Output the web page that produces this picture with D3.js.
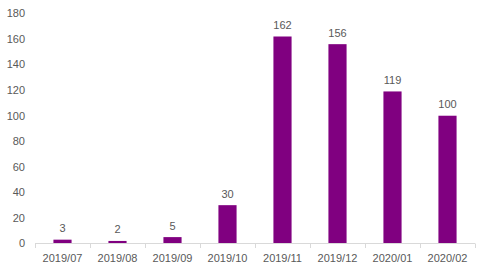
<!DOCTYPE html>
<html><head><meta charset="utf-8">
<script src="https://cdn.jsdelivr.net/npm/d3@7"></script>
<style>body{margin:0;background:#fff}svg{display:block}</style>
</head><body>
<script>
const categories = ["2019/07","2019/08","2019/09","2019/10","2019/11","2019/12","2020/01","2020/02"];
const values = [3,2,5,30,162,156,119,100];
const yTicks = [0,20,40,60,80,100,120,140,160,180];

const W = 480, H = 278;
const svg = d3.select("body").append("svg").attr("width", W).attr("height", H)
  .style("font-family", "'Liberation Sans', Arial, sans-serif");

const x = d3.scaleBand().domain(categories).range([35, 475]).paddingInner(0.67).paddingOuter(0.335);
const xb = d3.scaleBand().domain(categories).range([35, 475]);
const y = d3.scaleLinear().domain([0, 180]).range([243.5, 13.5]);

// y labels
svg.append("g").selectAll("text").data(yTicks).join("text")
  .attr("x", 25).attr("y", d => y(d)).attr("dy", "0.35em")
  .attr("text-anchor", "end").attr("font-size", 11).attr("fill", "#595959")
  .text(d => d);

// bars
svg.append("g").selectAll("rect").data(values).join("rect")
  .attr("x", (d, i) => x(categories[i])).attr("width", x.bandwidth())
  .attr("y", d => y(d)).attr("height", d => y(0) - y(d))
  .attr("fill", "#800080");

// axis line and ticks
const ax = svg.append("g");
ax.append("line").attr("x1", 35).attr("x2", 475).attr("y1", 243.5).attr("y2", 243.5)
  .attr("stroke", "#d9d9d9").attr("stroke-width", 1);
const bounds = categories.map(c => xb(c)).concat([475]);
ax.selectAll("line.t").data(bounds).join("line").attr("class", "t")
  .attr("x1", d => Math.round(d) + 0.5).attr("x2", d => Math.round(d) + 0.5)
  .attr("y1", 243.5).attr("y2", 248)
  .attr("stroke", "#d9d9d9");

// x labels
svg.append("g").selectAll("text").data(categories).join("text")
  .attr("x", d => xb(d) + xb.bandwidth() / 2).attr("y", 258).attr("dy", "0.35em")
  .attr("text-anchor", "middle").attr("font-size", 11).attr("fill", "#595959")
  .text(d => d);

// value labels
svg.append("g").selectAll("text").data(values).join("text")
  .attr("x", (d, i) => xb(categories[i]) + xb.bandwidth() / 2).attr("y", d => y(d) - 7.5)
  .attr("text-anchor", "middle").attr("font-size", 11).attr("fill", "#595959")
  .text(d => d);
</script>
</body></html>
